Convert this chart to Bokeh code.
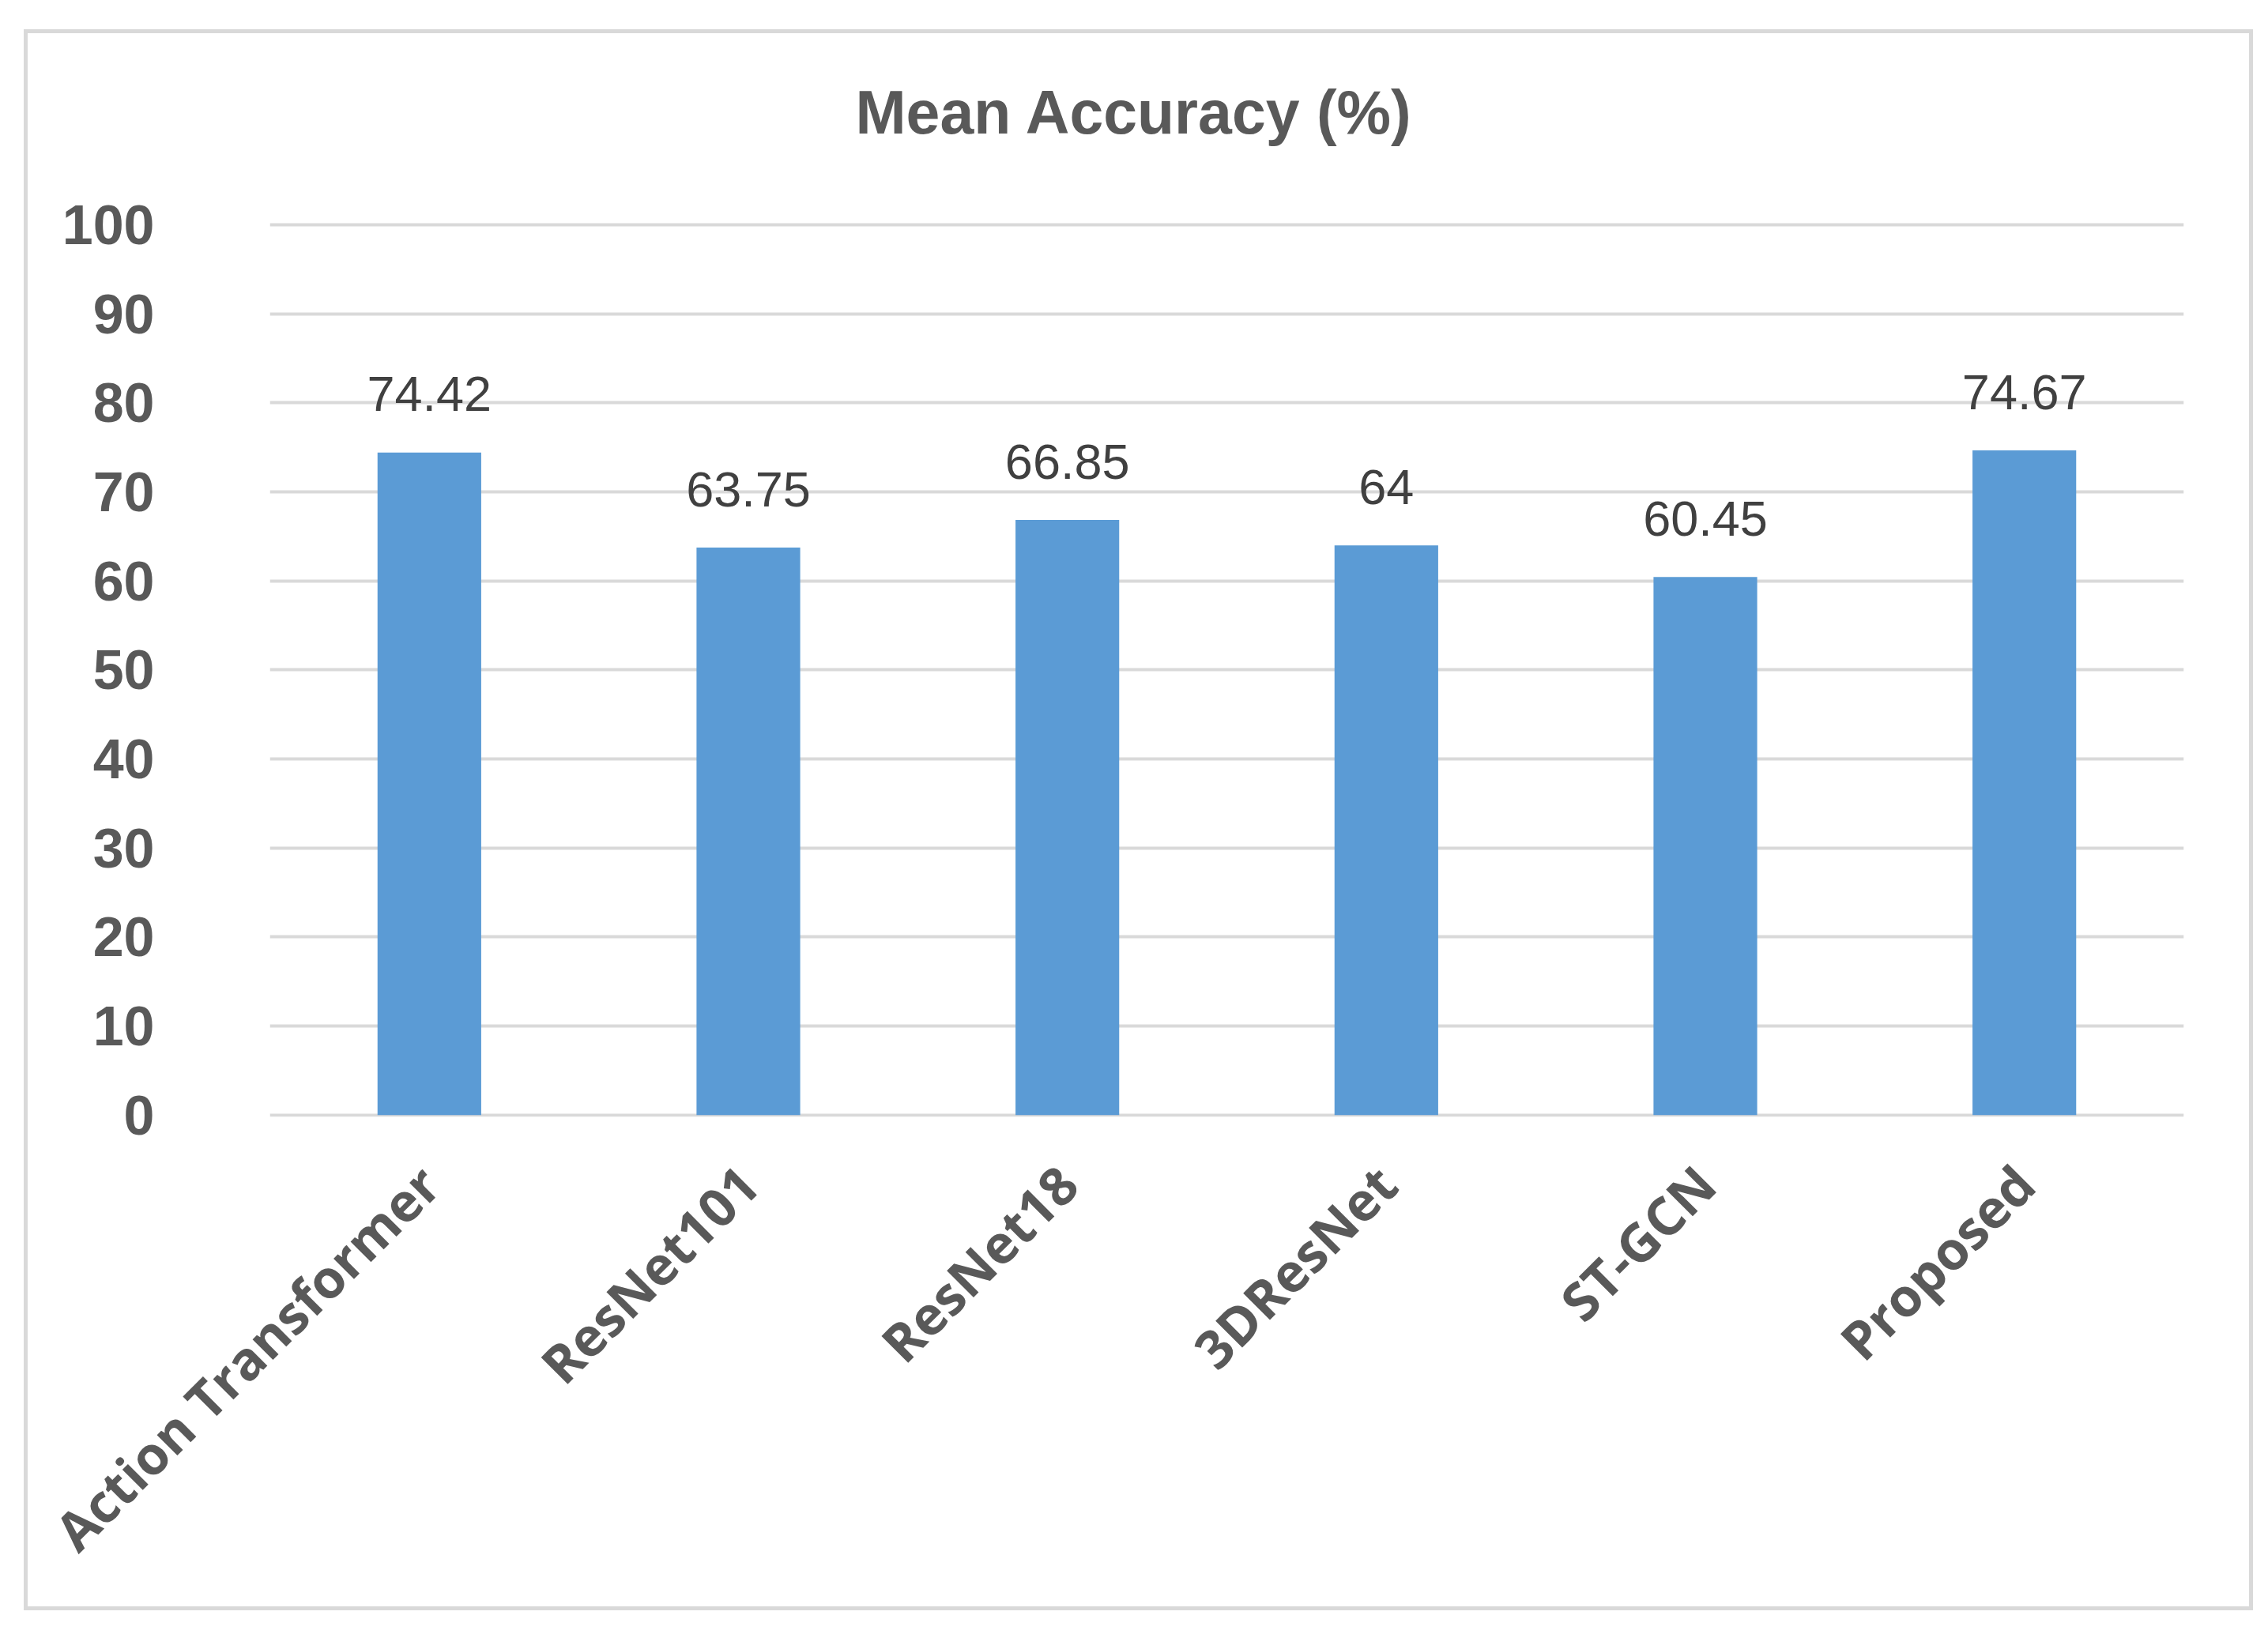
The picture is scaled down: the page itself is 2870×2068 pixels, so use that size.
import math
from bokeh.plotting import figure
from bokeh.models import FactorRange, Range1d, FixedTicker, ColumnDataSource, Label
from bokeh.core.properties import value
from bokeh.embed import file_html
from bokeh.resources import INLINE

# ---- data ----
models = ["Action Transformer", "ResNet101", "ResNet18", "3DResNet", "ST-GCN", "Proposed"]
accuracy = [74.42, 63.75, 66.85, 64, 60.45, 74.67]
y_ticks = [0, 10, 20, 30, 40, 50, 60, 70, 80, 90, 100]
title_text = "Mean Accuracy (%)"

labels = [f"{v:g}" for v in accuracy]
src = ColumnDataSource(dict(model=models, acc=accuracy, label=labels))

FRAME_W, FRAME_H = 2422, 1317
p = figure(
    frame_width=FRAME_W, frame_height=FRAME_H,
    x_range=FactorRange(factors=models, range_padding=0),
    y_range=Range1d(-0.2, 116.7),
    output_backend="svg", toolbar_location=None,
    min_border_left=306, min_border_right=83,
    min_border_top=54, min_border_bottom=620,
)
p.margin = (37, 0, 0, 30)
p.styles = {"border": "5px solid #d9d9d9"}
p.outline_line_color = None
p.background_fill_color = "white"
p.border_fill_color = "white"

# chart title, centred on the whole chart area
p.add_layout(Label(
    x=1094, y=112.7, x_units="screen", y_units="data",
    text=title_text, text_align="center", text_baseline="alphabetic",
    text_font="Liberation Sans", text_font_size="77px",
    text_font_style="bold", text_color="#595959",
))

# bars
p.vbar(x="model", top="acc", bottom=0, width=0.325, source=src,
       fill_color="#5b9bd5", line_color=None)

# data labels
p.text(x="model", y="acc", text="label", source=src,
       text_align="center", text_baseline="alphabetic", y_offset=-74,
       text_font=value("Liberation Sans"), text_font_size="63px",
       text_color="#404040")

# grid
p.xgrid.grid_line_color = None
p.ygrid.grid_line_color = "#d9d9d9"
p.ygrid.grid_line_width = 4
p.yaxis.ticker = FixedTicker(ticks=y_ticks)

# y axis
p.yaxis.axis_line_color = None
p.yaxis.major_tick_line_color = None
p.yaxis.minor_tick_line_color = None
p.yaxis.major_label_standoff = 140
p.yaxis.major_label_text_font = "Liberation Sans"
p.yaxis.major_label_text_font_style = "bold"
p.yaxis.major_label_text_font_size = "70px"
p.yaxis.major_label_text_color = "#595959"

# x axis
p.xaxis.axis_line_color = None
p.xaxis.major_tick_line_color = None
p.xaxis.major_tick_out = 0
p.xaxis.major_label_orientation = math.pi / 4
p.xaxis.major_label_standoff = 73
p.xaxis.major_label_text_font = "Open Sans"
p.xaxis.major_label_text_font_style = "bold"
p.xaxis.major_label_text_font_size = "67px"
p.xaxis.major_label_text_color = "#595959"

open("out.html", "w").write(file_html(p, INLINE))
